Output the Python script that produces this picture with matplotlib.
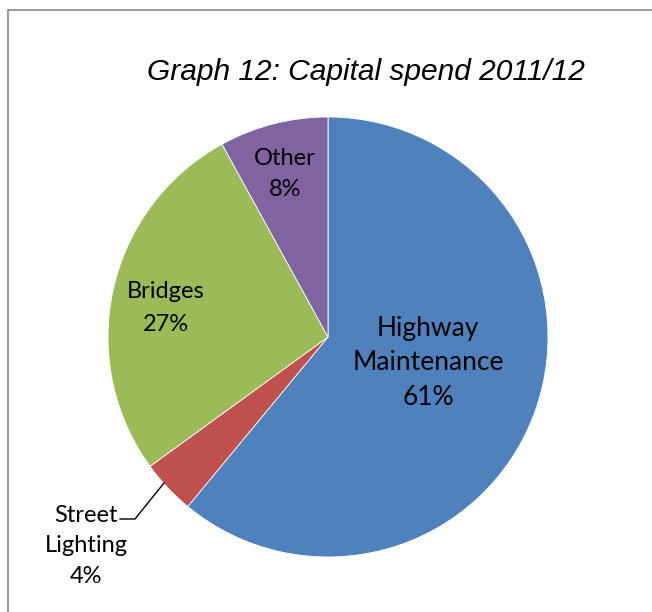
import matplotlib.pyplot as plt
from matplotlib.patches import Rectangle

categories = ['Highway\nMaintenance', 'Street\nLighting', 'Bridges', 'Other']
shares = [61, 4, 27, 8]
colors = ['#4F81BD', '#C0504D', '#9BBB59', '#8064A2']

W, H = 652, 612
fig = plt.figure(figsize=(W / 100, H / 100), dpi=100)
ax = fig.add_axes([0, 0, 1, 1])

# chart frame, cut off on the right and bottom
fig.patches.append(Rectangle((8 / W, -0.1), 1.2, (H - 10) / H + 0.1,
                             transform=fig.transFigure, fill=False,
                             edgecolor='#868686', linewidth=1.2))

# pie drawn in flipped pixel space, so go counterclockwise to look clockwise
wedges, _ = ax.pie(shares, colors=colors, startangle=-90, counterclock=True,
                   center=(328, 337), radius=220, frame=True,
                   wedgeprops=dict(edgecolor='white', linewidth=0.6))
ax.set_xlim(0, W)
ax.set_ylim(H, 0)
ax.set_aspect('equal')
ax.axis('off')

lab_font = dict(family=['Lato', 'DejaVu Sans'], color='black',
                ha='center', va='center')
label_pos = [(428, 363), (86, 546), (166, 308), (285, 174)]
label_size = [19, 17, 17, 17]
label_gap = [1.48, 1.58, 1.66, 1.55]
for name, pct, (x, y), fs, ls in zip(categories, shares, label_pos,
                                     label_size, label_gap):
    ax.text(x, y, f'{name}\n{pct}%', fontsize=fs, linespacing=ls, **lab_font)

# leader line for the small slice
ax.plot([120, 135, 164], [519, 519, 483], color='black', linewidth=1)

ax.text(366, 72, 'Graph 12: Capital spend 2011/12', fontsize=21.5,
        style='italic', family='Liberation Sans', ha='center', va='center')

fig.savefig('out.png', dpi=100)
